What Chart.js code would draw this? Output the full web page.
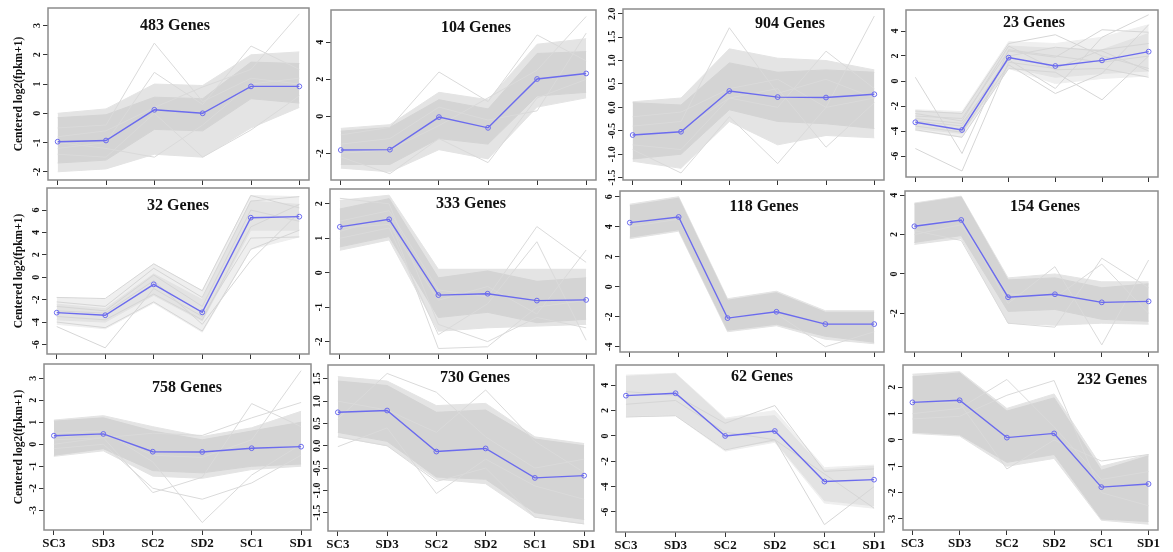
<!DOCTYPE html>
<html><head><meta charset="utf-8">
<script src="https://cdn.jsdelivr.net/npm/chart.js@4.4.0/dist/chart.umd.min.js"></script>
<style>
html,body{margin:0;padding:0;background:#fff;}
body{width:1173px;height:552px;overflow:hidden;position:relative;}
canvas{position:absolute;}
.t{position:absolute;font-family:"Liberation Serif",serif;font-weight:bold;font-size:16px;line-height:1.15;color:#111;transform:translate(-50%,-50%);white-space:nowrap;}
</style></head><body>
<script>
// ---------------- data ----------------
const categories = ['SC3','SD3','SC2','SD2','SC1','SD1'];
const geneCounts = [483,104,904,23,32,333,118,154,758,730,62,232];

// mean (blue) profile of each cluster
const meanLines = [
  [-0.97,-0.93,0.12,0.00,0.92,0.92],
  [-1.82,-1.80,-0.04,-0.62,2.02,2.32],
  [-0.59,-0.52,0.35,0.22,0.21,0.28],
  [-3.30,-3.92,1.87,1.20,1.65,2.35],
  [-3.16,-3.39,-0.63,-3.13,5.32,5.41],
  [1.33,1.55,-0.65,-0.61,-0.81,-0.79],
  [4.27,4.65,-2.09,-1.67,-2.49,-2.49],
  [2.42,2.74,-1.18,-1.03,-1.44,-1.39],
  [0.39,0.47,-0.34,-0.35,-0.18,-0.11],
  [0.75,0.79,-0.13,-0.06,-0.72,-0.67],
  [3.18,3.37,0.00,0.39,-3.60,-3.45],
  [1.43,1.51,0.09,0.25,-1.79,-1.67]
];

// dense core of the gene profiles (upper / lower edge)
const coreHigh = [
  [-0.15,-0.05,0.55,0.50,1.75,1.70],
  [-0.80,-0.60,0.90,0.40,3.40,3.50],
  [0.10,0.05,0.95,0.75,0.80,0.75],
  [-2.40,-2.60,2.80,2.60,2.50,3.80],
  [-2.40,-2.80,0.30,-2.00,6.80,6.50],
  [1.85,2.15,-0.15,0.05,-0.25,-0.15],
  [5.40,5.90,-0.90,-0.40,-1.70,-1.70],
  [3.55,3.90,-0.30,-0.20,-0.70,-0.50],
  [1.05,1.20,0.60,0.20,0.60,1.00],
  [1.45,1.35,0.75,0.80,0.15,0.00],
  [4.70,4.90,1.30,1.60,-2.70,-2.40],
  [2.40,2.55,1.10,1.60,-1.15,-0.60]
];
const coreLow = [
  [-1.70,-1.60,-0.55,-0.60,0.50,0.35],
  [-2.60,-2.60,-1.20,-1.50,1.10,1.30],
  [-1.10,-1.00,-0.05,-0.30,-0.35,-0.45],
  [-3.80,-4.20,1.10,0.30,0.60,0.80],
  [-3.80,-4.00,-1.60,-3.90,4.20,4.20],
  [0.75,1.05,-1.30,-1.15,-1.45,-1.35],
  [3.30,3.80,-2.90,-2.50,-3.30,-3.70],
  [1.60,1.95,-1.90,-1.80,-2.30,-2.40],
  [-0.50,-0.20,-1.20,-1.30,-1.00,-0.90],
  [0.30,0.10,-0.70,-0.75,-1.50,-1.65],
  [1.60,1.70,-1.00,-0.40,-5.10,-5.50],
  [0.30,0.20,-0.85,-0.55,-3.00,-3.10]
];

// looser fringe of the gene profiles
const fringeHigh = [
  [0.00,0.15,1.00,0.95,2.00,2.10],
  [-0.65,-0.45,1.30,0.90,3.90,4.20],
  [0.12,0.20,1.25,1.05,1.00,0.80],
  [-2.30,-2.45,3.15,3.00,3.50,4.50],
  [-1.80,-2.00,1.20,-1.20,7.30,7.20],
  [2.10,2.25,0.10,0.10,0.10,0.10],
  [5.50,6.00,-0.80,-0.30,-1.60,-1.60],
  [3.60,3.95,-0.20,0.00,-0.40,-0.40],
  [1.10,1.30,0.80,0.35,0.75,1.50],
  [1.55,1.45,0.90,0.95,0.20,0.05],
  [4.80,4.95,1.40,2.00,-2.50,-2.30],
  [2.50,2.60,1.20,1.75,-1.00,-0.55]
];
const fringeLow = [
  [-2.00,-1.90,-1.40,-1.50,-0.50,0.20],
  [-2.80,-3.00,-1.80,-2.30,0.50,1.00],
  [-1.15,-1.30,-0.30,-0.80,-0.60,-0.65],
  [-3.95,-4.50,1.00,-0.20,0.20,0.40],
  [-4.20,-4.60,-2.30,-4.90,2.50,3.60],
  [0.65,0.95,-1.70,-1.60,-1.55,-1.50],
  [3.20,3.70,-3.00,-2.60,-3.50,-3.80],
  [1.50,1.80,-2.50,-2.60,-2.50,-2.55],
  [-0.55,-0.30,-1.45,-1.55,-1.15,-1.00],
  [0.20,0.00,-0.75,-0.85,-1.60,-1.75],
  [1.50,1.60,-1.20,-0.50,-5.30,-5.70],
  [0.25,0.15,-1.00,-0.70,-3.05,-3.20]
];

// individual stray gene profiles visible outside the dense core
const outlierLines = [
  [[-0.5,-0.4,2.4,0.4,1.2,1.0],[-0.8,-0.6,0.2,0.9,1.5,3.4],[-1.2,-1.0,1.4,0.3,2.3,1.5],[-1.0,-1.2,-1.5,-0.4,1.0,1.2],[-1.4,-1.5,0.0,-1.5,-0.57,0.6]],
  [[-1.0,-0.6,2.4,0.8,4.4,3.0],[-2.0,-1.8,-0.5,1.0,2.5,5.4],[-2.2,-3.1,-1.2,-2.5,1.0,2.0],[-1.5,-1.2,0.5,-0.2,0.3,4.5]],
  [[-0.4,-0.3,1.7,0.3,0.6,0.2],[-0.9,-1.4,-0.2,-1.2,0.0,0.2],[-0.6,-0.5,0.2,0.4,-0.85,0.1],[-0.2,-0.1,0.4,0.6,0.0,1.95],[-0.8,-0.9,0.2,0.0,1.2,0.4]],
  [[0.3,-5.8,2.5,2.0,1.5,2.0],[-5.4,-7.2,1.5,1.0,2.5,3.0],[-2.4,-2.6,3.0,3.7,2.0,1.0],[-2.8,-3.0,2.4,1.9,4.1,3.9],[-3.0,-3.4,1.7,-0.6,3.5,5.3],[-3.6,-4.1,1.3,-1.0,0.6,4.5],[-3.9,-4.5,1.0,0.7,-1.5,2.0],[-3.2,-3.6,2.0,2.7,2.4,0.8],[-2.6,-3.2,2.8,0.9,1.0,0.3]],
  [[-1.8,-1.9,1.2,-1.2,7.3,6.2],[-2.2,-2.6,0.8,-1.8,6.8,7.2],[-2.6,-3.0,0.2,-2.6,6.0,5.0],[-3.5,-3.8,-1.5,-3.8,4.5,6.5],[-4.0,-4.5,-2.2,-4.8,2.5,4.2],[-4.4,-6.3,-1.0,-3.5,3.5,3.6],[-3.0,-3.2,-0.3,-4.2,1.5,5.8]],
  [[1.2,1.6,-2.2,-2.15,-1.0,-0.8],[1.5,1.8,-0.5,-0.7,1.34,0.3],[1.0,1.3,-1.8,-0.9,0.9,-1.96],[1.3,1.4,-0.8,-0.4,-1.2,0.66],[2.16,2.0,-1.5,-2.0,-1.3,-1.6]],
  [[4.0,4.5,-2.0,-1.8,-4.0,-3.0]],
  [[2.2,1.7,-2.5,-2.7,0.8,-0.7],[2.5,2.8,-1.5,0.37,-3.6,0.71],[2.0,2.5,-1.0,-1.2,0.5,-2.0]],
  [[0.0,0.3,-2.2,-1.5,1.85,0.8],[0.5,0.6,-0.8,-3.56,-1.4,0.0],[0.3,0.5,-0.5,-0.6,0.2,3.35],[-0.2,0.0,-2.0,-2.5,-1.76,-0.5],[0.2,0.3,0.5,0.4,1.2,1.9]],
  [[-0.02,0.4,-1.07,-0.3,-0.9,-1.2],[0.6,1.62,1.2,0.2,-0.5,-0.3],[1.0,0.8,0.3,1.25,0.1,-0.6],[0.2,0.0,-0.8,-0.5,-1.6,-1.75]],
  [[2.5,2.8,0.3,-0.3,-7.0,-4.0],[3.5,3.2,1.0,2.4,-2.8,-2.6],[1.5,1.6,-1.1,-0.3,-3.0,-5.7]],
  [[1.0,1.2,2.3,0.5,-1.5,-1.2],[0.8,0.9,1.7,2.26,-2.0,-2.5],[1.5,1.4,-1.1,0.0,-0.8,-0.55]]
];

// y-axis ranges and tick labels
const yMin = [-2.28,-3.44,-1.55,-7.68,-6.85,-2.36,-4.35,-3.96,-3.90,-1.91,-7.58,-3.42];
const yMax = [3.60,5.75,2.10,5.68,7.97,2.43,6.38,4.21,3.65,1.81,5.60,2.85];
const yTicks = [
  [-2,-1,0,1,2,3],
  [-2,0,2,4],
  [-1.5,-1,-0.5,0,0.5,1,1.5,2],
  [-6,-4,-2,0,2,4],
  [-6,-4,-2,0,2,4,6],
  [-2,-1,0,1,2],
  [-4,-2,0,2,4,6],
  [-2,0,2,4],
  [-3,-2,-1,0,1,2,3],
  [-1.5,-1,-0.5,0,0.5,1,1.5],
  [-6,-4,-2,0,2,4],
  [-3,-2,-1,0,1,2]
];
const yDecimals = [0,0,1,0,0,0,0,0,0,1,0,0];
const yTitle = 'Centered log2(fpkm+1)';

// ---------------- layout (plot boxes: left, top, right, bottom) ----------------
const boxes = [
  [48,8,309,180],[331,10,596,180],[623,9,884,180],[906,10,1158,177],
  [47,188,309,354],[330,189,596,354],[620,191,884,352],[905,191,1158,352],
  [44,364,311,530],[328,365,594,531],[616,365,884,532],[903,365,1158,530]
];
const titlePos = [
  [175,25],[476,26.5],[790,23],[1034,22],
  [178,204.5],[471,202.5],[764,205.5],[1045,205.5],
  [187,387],[475,377],[762,376],[1112,379]
];
const sparse = [false,false,false,true,true,false,false,false,false,false,true,false];

const FAM = "'Liberation Serif', serif";
const mctx = document.createElement('canvas').getContext('2d');
mctx.font = 'bold 10px ' + FAM;

const boxPlugin = {
  id:'box',
  afterDatasetsDraw(chart){
    const {ctx, chartArea:a} = chart;
    ctx.save();
    ctx.strokeStyle = '#8c8c8c';
    ctx.lineWidth = 1.5;
    ctx.strokeRect(a.left, a.top, a.right-a.left, a.bottom-a.top);
    ctx.restore();
  }
};

const pts = vals => vals.map((v,i)=>({x:i+1, y:v}));

for (let i = 0; i < 12; i++) {
  const [L,T,R,B] = boxes[i];
  const col = i % 4, row = Math.floor(i/4);
  const cLeft = col === 0 ? 0 : L - 40;
  const yW = L - cLeft;
  const topPad = 10;
  const cTop = T - topPad;
  const bottomSpace = row === 2 ? 22 : 8;
  const rightPad = 16;
  const W = (R - cLeft) + rightPad;
  const H = (B - cTop) + bottomSpace;

  const cv = document.createElement('canvas');
  cv.width = W; cv.height = H;
  cv.style.left = cLeft + 'px'; cv.style.top = cTop + 'px';
  cv.style.width = W + 'px'; cv.style.height = H + 'px';
  document.body.appendChild(cv);

  const fmt = v => yDecimals[i] ? Number(v).toFixed(1) : String(v);
  const widest = Math.max(...yTicks[i].map(v => mctx.measureText(fmt(v)).width));
  const yPad = 11 - 5 - widest/2;

  const coreCol = sparse[i] ? '#e3e3e3' : '#d4d4d4';
  const fringeCol = sparse[i] ? '#efefef' : '#e4e4e4';
  const lineCol = sparse[i] ? '#d6d6d6' : '#dadada';

  const datasets = [];
  datasets.push({
    data: pts(meanLines[i]), borderColor:'#6b6bee', borderWidth:1.4,
    pointRadius:2.4, pointBorderWidth:1, pointBorderColor:'#6b6bee',
    pointBackgroundColor:'rgba(0,0,0,0)', fill:false, tension:0
  });
  outlierLines[i].forEach(l => datasets.push({
    data: pts(l), borderColor: lineCol, borderWidth:1, pointRadius:0, fill:false, tension:0
  }));
  datasets.push({data: pts(coreHigh[i]), borderColor:coreCol, borderWidth:1, pointRadius:0, fill:'+1', backgroundColor:coreCol, tension:0});
  datasets.push({data: pts(coreLow[i]), borderColor:coreCol, borderWidth:1, pointRadius:0, fill:false, tension:0});
  datasets.push({data: pts(fringeHigh[i]), borderColor:fringeCol, borderWidth:1, pointRadius:0, fill:'+1', backgroundColor:fringeCol, tension:0});
  datasets.push({data: pts(fringeLow[i]), borderColor:fringeCol, borderWidth:1, pointRadius:0, fill:false, tension:0});

  new Chart(cv, {
    type:'line',
    data:{ datasets },
    plugins:[boxPlugin],
    options:{
      responsive:false, animation:false, devicePixelRatio:1,
      layout:{ padding:{ top:topPad, right:rightPad, left:0, bottom:0 } },
      plugins:{ legend:{display:false}, tooltip:{enabled:false}, title:{display:false} },
      scales:{
        x:{
          type:'linear', min:0.8, max:6.2,
          afterBuildTicks: s => { s.ticks = categories.map((c,j)=>({value:j+1})); },
          afterFit: s => { s.height = bottomSpace; },
          ticks:{ display: row === 2, autoSkip:false, minRotation:0, maxRotation:0, padding:1,
                  font:{family:FAM, size:13, weight:'bold'}, color:'#111',
                  callback: v => categories[Math.round(v)-1] },
          grid:{ drawOnChartArea:false, drawTicks:true, tickLength:5, color:'#333' },
          border:{ display:false }
        },
        y:{
          type:'linear', min:yMin[i], max:yMax[i],
          afterBuildTicks: s => { s.ticks = yTicks[i].map(v=>({value:v})); },
          afterFit: s => { s.width = yW; },
          ticks:{ minRotation:90, maxRotation:90, crossAlign:'center', padding:yPad,
                  font:{family:FAM, size:10, weight:'bold'}, color:'#111',
                  callback: v => fmt(v) },
          grid:{ drawOnChartArea:false, drawTicks:true, tickLength:5, color:'#333' },
          border:{ display:false },
          title: col === 0 ? { display:true, text:yTitle, color:'#111',
                  font:{family:FAM, size:11.5, weight:'bold'}, padding:{top:12, bottom:0} } : { display:false }
        }
      }
    }
  });

  const t = document.createElement('div');
  t.className = 't';
  t.textContent = geneCounts[i] + ' Genes';
  t.style.left = titlePos[i][0] + 'px';
  t.style.top = titlePos[i][1] + 'px';
  document.body.appendChild(t);
}
</script>
</body></html>
